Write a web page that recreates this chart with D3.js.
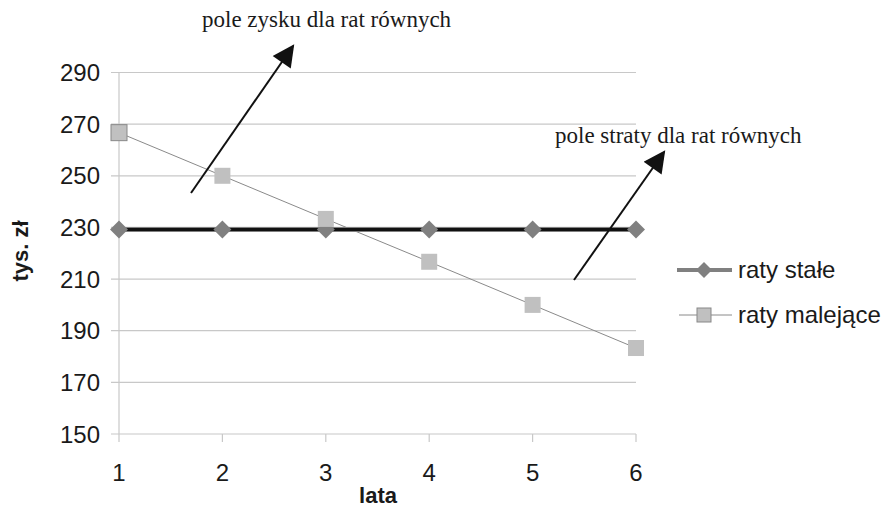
<!DOCTYPE html>
<meta charset="utf-8">
<script src="https://d3js.org/d3.v7.min.js"></script>
<style>
  body { margin: 0; background: #fff; }
  text { font-family: "Liberation Sans", Arial, sans-serif; fill: #1a1a1a; }
  .note { font-family: "Liberation Serif", "Times New Roman", serif; }
</style>
<body>
<div id="vis"></div>
<script>
// data
var years = [1, 2, 3, 4, 5, 6];
var ratyStale = [229.2, 229.2, 229.2, 229.2, 229.2, 229.2];
var ratyMalejace = [266.7, 250, 233.3, 216.7, 200, 183.3];
var yTicks = [150, 170, 190, 210, 230, 250, 270, 290];

var width = 886, height = 508;

var svg = d3.select("#vis")
  .append("svg")
    .attr("width", width)
    .attr("height", height);

var x = d3.scaleLinear().domain([1, 6]).range([119, 636]);
var y = d3.scaleLinear().domain([150, 290]).range([434, 72.5]);

// gridlines + left ticks
svg.append("g")
  .selectAll("line")
  .data(yTicks)
  .enter()
  .append("line")
    .attr("x1", 111)
    .attr("x2", x(6))
    .attr("y1", function(d) { return y(d); })
    .attr("y2", function(d) { return y(d); })
    .attr("stroke", "#c8c8c8")
    .attr("stroke-width", 1.2);

// vertical axis line
svg.append("line")
  .attr("x1", x(1)).attr("x2", x(1))
  .attr("y1", y(290)).attr("y2", y(150) + 8)
  .attr("stroke", "#c8c8c8")
  .attr("stroke-width", 1.2);

// bottom ticks
svg.append("g")
  .selectAll("line")
  .data(years.slice(1))
  .enter()
  .append("line")
    .attr("x1", function(d) { return x(d); })
    .attr("x2", function(d) { return x(d); })
    .attr("y1", y(150))
    .attr("y2", y(150) + 8)
    .attr("stroke", "#c8c8c8")
    .attr("stroke-width", 1.2);

// y tick labels
svg.append("g")
  .selectAll("text")
  .data(yTicks)
  .enter()
  .append("text")
    .attr("x", 100)
    .attr("y", function(d) { return y(d) + 8.5; })
    .attr("text-anchor", "end")
    .style("font-size", "24px")
    .text(function(d) { return d; });

// x tick labels
svg.append("g")
  .selectAll("text")
  .data(years)
  .enter()
  .append("text")
    .attr("x", function(d) { return x(d); })
    .attr("y", 481)
    .attr("text-anchor", "middle")
    .style("font-size", "24px")
    .text(function(d) { return d; });

// axis titles
svg.append("text")
  .attr("x", 378)
  .attr("y", 503)
  .attr("text-anchor", "middle")
  .style("font-size", "22px")
  .style("font-weight", "bold")
  .text("lata");

svg.append("text")
  .attr("transform", "translate(28,251) rotate(-90)")
  .attr("text-anchor", "middle")
  .style("font-size", "22px")
  .style("font-weight", "bold")
  .text("tys. zł");

// raty malejace line
var line = d3.line()
  .x(function(d, i) { return x(years[i]); })
  .y(function(d) { return y(d); });

svg.append("path")
  .datum(ratyMalejace)
  .attr("d", line)
  .attr("fill", "none")
  .attr("stroke", "#8a8a8a")
  .attr("stroke-width", 1);

// raty stale line: grey with black over it
svg.append("path")
  .datum(ratyStale)
  .attr("d", line)
  .attr("fill", "none")
  .attr("stroke", "#808080")
  .attr("stroke-width", 5);
svg.append("path")
  .datum(ratyStale)
  .attr("d", line)
  .attr("fill", "none")
  .attr("stroke", "#111")
  .attr("stroke-width", 3);

// diamonds
var diamond = function(cx, cy, r) {
  return "M" + cx + "," + (cy - r) + "L" + (cx + r) + "," + cy +
         "L" + cx + "," + (cy + r) + "L" + (cx - r) + "," + cy + "Z";
};
svg.append("g")
  .selectAll("path")
  .data(ratyStale)
  .enter()
  .append("path")
    .attr("d", function(d, i) { return diamond(x(years[i]), y(d), 9); })
    .attr("fill", "#808080");

// squares
svg.append("g")
  .selectAll("rect")
  .data(ratyMalejace)
  .enter()
  .append("rect")
    .attr("x", function(d, i) { return x(years[i]) - 8; })
    .attr("y", function(d) { return y(d) - 8; })
    .attr("width", 16)
    .attr("height", 16)
    .attr("fill", "#c0c0c0")
    .attr("stroke", function(d, i) { return i == 0 ? "#888" : "none"; })
    .attr("stroke-width", 1);

// annotations
svg.append("defs").append("marker")
  .attr("id", "head")
  .attr("viewBox", "0 0 10 10")
  .attr("refX", 9).attr("refY", 5)
  .attr("markerWidth", 24).attr("markerHeight", 22)
  .attr("markerUnits", "userSpaceOnUse")
  .attr("orient", "auto")
  .append("path")
    .attr("d", "M0,0L10,5L0,10Z")
    .attr("fill", "#111");

svg.append("line")
  .attr("x1", 191).attr("y1", 193)
  .attr("x2", 293).attr("y2", 46)
  .attr("stroke", "#111")
  .attr("stroke-width", 2)
  .attr("marker-end", "url(#head)");

svg.append("line")
  .attr("x1", 574).attr("y1", 280)
  .attr("x2", 664).attr("y2", 152)
  .attr("stroke", "#111")
  .attr("stroke-width", 2)
  .attr("marker-end", "url(#head)");

svg.append("text")
  .attr("class", "note")
  .attr("x", 202)
  .attr("y", 27)
  .style("font-size", "23px")
  .text("pole zysku dla rat równych");

svg.append("text")
  .attr("class", "note")
  .attr("x", 555)
  .attr("y", 143)
  .style("font-size", "23px")
  .text("pole straty dla rat równych");

// legend
var lg = svg.append("g");
lg.append("line")
  .attr("x1", 677).attr("x2", 732)
  .attr("y1", 270).attr("y2", 270)
  .attr("stroke", "#808080").attr("stroke-width", 4);
lg.append("path")
  .attr("d", diamond(704, 270, 8))
  .attr("fill", "#808080");
lg.append("text")
  .attr("x", 738).attr("y", 278)
  .style("font-size", "24px")
  .text("raty stałe");

lg.append("line")
  .attr("x1", 679).attr("x2", 732)
  .attr("y1", 315).attr("y2", 315)
  .attr("stroke", "#8a8a8a").attr("stroke-width", 1);
lg.append("rect")
  .attr("x", 697).attr("y", 308)
  .attr("width", 14).attr("height", 14)
  .attr("fill", "#c0c0c0")
  .attr("stroke", "#888").attr("stroke-width", 1);
lg.append("text")
  .attr("x", 738).attr("y", 323)
  .style("font-size", "24px")
  .text("raty malejące");
</script>
